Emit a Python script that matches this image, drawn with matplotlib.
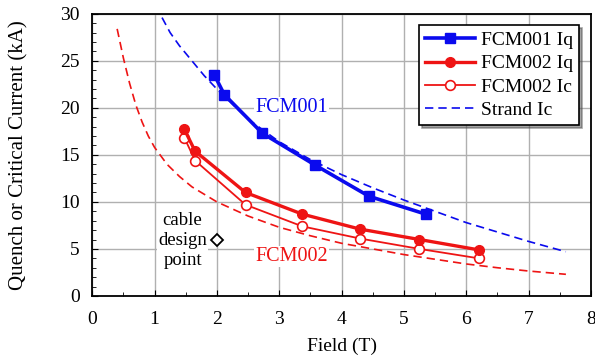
import matplotlib.pyplot as plt
from matplotlib.ticker import MultipleLocator

plt.rcParams['font.family'] = ['Liberation Serif', 'DejaVu Serif']

BLUE = '#0a0aee'
RED = '#ee1414'

# FCM001 quench current
f1_field = [1.96, 2.12, 2.73, 3.58, 4.44, 5.35]
f1_iq = [23.5, 21.4, 17.3, 13.9, 10.6, 8.7]

# FCM002 quench and critical current
f2_field = [1.48, 1.65, 2.46, 3.37, 4.30, 5.25, 6.20]
f2_iq = [17.7, 15.4, 11.0, 8.7, 7.1, 6.0, 4.9]
f2_ic = [16.8, 14.4, 9.7, 7.4, 6.1, 5.0, 4.0]

# strand Ic scaled curves
s1_field = [1.12, 1.25, 1.4, 1.6, 1.8, 2.0, 2.5, 3.0, 3.5, 4.0, 4.5, 5.0, 5.5, 6.0, 6.5, 7.0, 7.6]
s1_ic = [29.6, 28.0, 26.6, 25.0, 23.4, 22.0, 18.8, 16.4, 14.5, 12.9, 11.5, 10.2, 9.0, 7.8, 6.8, 5.8, 4.7]
s2_field = [0.40, 0.5, 0.6, 0.7, 0.8, 0.9, 1.0, 1.2, 1.4, 1.6, 2.0, 2.5, 3.0, 3.5, 4.0, 4.5, 5.0,
            5.5, 6.0, 6.5, 7.0, 7.6]
s2_ic = [28.4, 25.3, 22.6, 20.3, 18.5, 17.0, 15.8, 14.0, 12.7, 11.6, 10.0, 8.5, 7.3, 6.4, 5.6,
         5.0, 4.4, 3.9, 3.4, 3.0, 2.65, 2.3]

design_field = [2.0]
design_i = [5.9]

fig = plt.figure(figsize=(5.95, 3.64), dpi=100)
ax = fig.add_axes([0.155, 0.187, 0.838, 0.775])

ax.plot(s1_field, s1_ic, '--', color=BLUE, lw=1.2, dashes=(5, 3), zorder=2)
ax.plot(s2_field, s2_ic, '--', color=RED, lw=1.2, dashes=(5, 3), zorder=2)
ax.plot(f1_field, f1_iq, '-s', color=BLUE, lw=2.6, ms=7, label='FCM001 Iq', zorder=4)
ax.plot(f2_field, f2_iq, '-o', color=RED, lw=2.4, ms=7, label='FCM002 Iq', zorder=4)
ax.plot(f2_field, f2_ic, '-o', color=RED, lw=1.3, ms=7, mfc='white', mew=1.2,
        label='FCM002 Ic', zorder=3)
ax.plot([], [], '--', color=BLUE, lw=1.2, dashes=(5, 3), label='Strand Ic')
ax.plot(design_field, design_i, 'D', color='black', mfc='white', ms=6, mew=1.3, zorder=5)

ax.text(1.45, 5.9, 'cable\ndesign\npoint', ha='center', va='center', fontsize=13.5,
        linespacing=1.2, bbox=dict(fc='white', ec='none', pad=1), zorder=3)
ax.text(3.2, 20.0, 'FCM001', color=BLUE, ha='center', va='center', fontsize=14.5,
        bbox=dict(fc='white', ec='none', pad=1), zorder=3)
ax.text(3.2, 4.2, 'FCM002', color=RED, ha='center', va='center', fontsize=14.5,
        bbox=dict(fc='white', ec='none', pad=1), zorder=3)

ax.set_xlim(0, 8)
ax.set_ylim(0, 30)
ax.xaxis.set_major_locator(MultipleLocator(1))
ax.xaxis.set_minor_locator(MultipleLocator(0.5))
ax.yaxis.set_major_locator(MultipleLocator(5))
ax.yaxis.set_minor_locator(MultipleLocator(1))
ax.tick_params(which='both', direction='in', labelsize=14)
ax.tick_params(which='major', length=4)
ax.tick_params(which='minor', length=3)
ax.tick_params(axis='x', which='major', pad=11)
ax.tick_params(axis='y', which='major', pad=9)
ax.grid(True, which='major', color='#b0b0b0', lw=1)
for s in ax.spines.values():
    s.set_linewidth(1.3)

ax.set_xlabel('Field (T)', fontsize=14, labelpad=7)
ax.set_ylabel('Quench or Critical Current (kA)', fontsize=15)
ax.yaxis.set_label_coords(-0.128, 0.5)

leg = ax.legend(loc='upper right', fontsize=14, handlelength=2.6, frameon=True,
                fancybox=False, shadow=True, borderpad=0.3, labelspacing=0.3,
                handletextpad=0.3, borderaxespad=0.6)
leg.get_frame().set_edgecolor('black')
leg.get_frame().set_linewidth(1.2)

fig.savefig('out.png', dpi=100)
